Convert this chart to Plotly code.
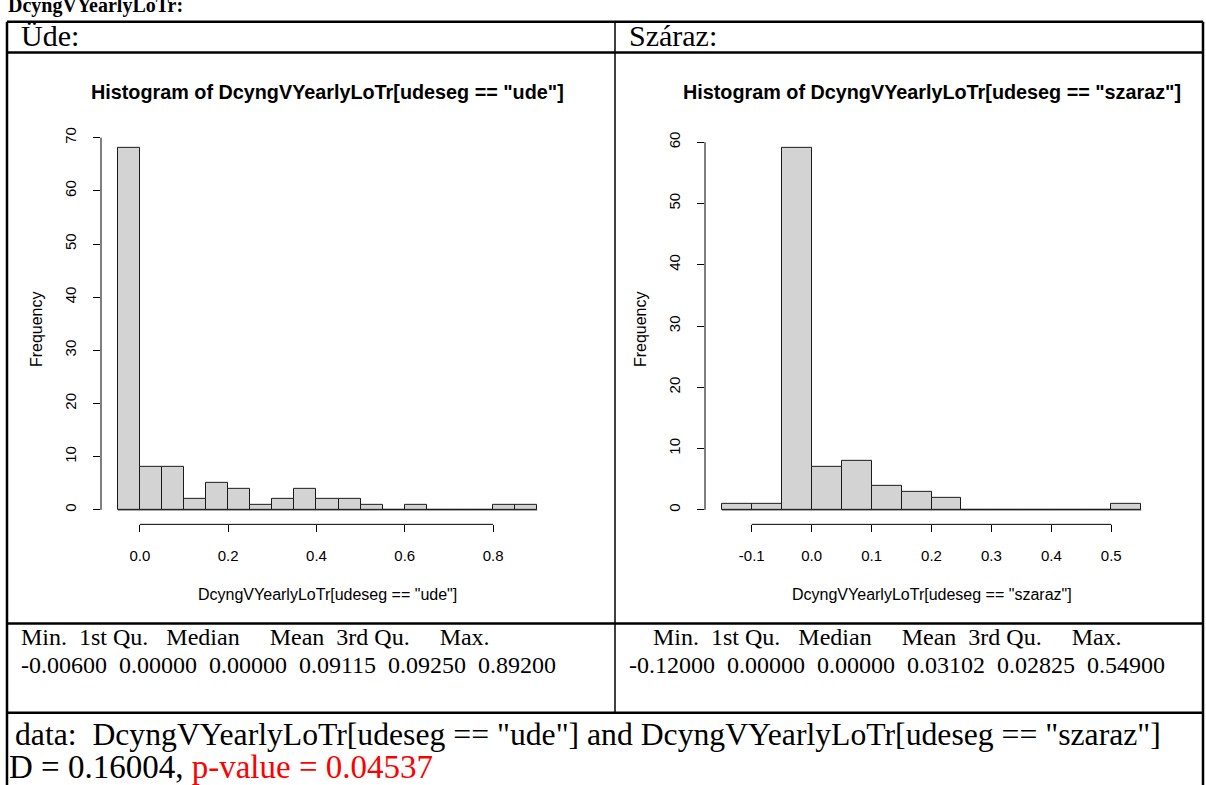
import plotly.graph_objects as go

W, H = 1206, 785

# histogram of DcyngVYearlyLoTr[udeseg == "ude"]
ude_breaks = [-0.05, 0.0, 0.05, 0.1, 0.15, 0.2, 0.25, 0.3, 0.35, 0.4, 0.45,
              0.5, 0.55, 0.6, 0.65, 0.7, 0.75, 0.8, 0.85, 0.9]
ude_counts = [68, 8, 8, 2, 5, 4, 1, 2, 4, 2, 2, 1, 0, 1, 0, 0, 0, 1, 1]
ude_xticks = [0.0, 0.2, 0.4, 0.6, 0.8]
ude_yticks = [0, 10, 20, 30, 40, 50, 60, 70]

# histogram of DcyngVYearlyLoTr[udeseg == "szaraz"]
szaraz_breaks = [-0.15, -0.1, -0.05, 0.0, 0.05, 0.1, 0.15, 0.2, 0.25, 0.3,
                 0.35, 0.4, 0.45, 0.5, 0.55]
szaraz_counts = [1, 1, 59, 7, 8, 4, 3, 2, 0, 0, 0, 0, 0, 1]
szaraz_xticks = [-0.1, 0.0, 0.1, 0.2, 0.3, 0.4, 0.5]
szaraz_yticks = [0, 10, 20, 30, 40, 50, 60]

summary_head = ["Min.", "1st Qu.", "Median", "Mean", "3rd Qu.", "Max."]
ude_summary = ["-0.00600", "0.00000", "0.00000", "0.09115", "0.09250", "0.89200"]
szaraz_summary = ["-0.12000", "0.00000", "0.00000", "0.03102", "0.02825", "0.54900"]

ks_data = 'data:  DcyngVYearlyLoTr[udeseg == "ude"] and DcyngVYearlyLoTr[udeseg == "szaraz"]'
ks_d = "D = 0.16004, "
ks_p = "p-value = 0.04537"

SERIF = "Liberation Serif"
SANS = "Liberation Sans"
NB = "\u00a0"


def px(x):
    return x / W


def py(y):
    return 1 - y / H


fig = go.Figure()


def add_hist(breaks, counts, xticks, yticks, xa, ya, xdom, name):
    mids = [(a + b) / 2 for a, b in zip(breaks[:-1], breaks[1:])]
    widths = [b - a for a, b in zip(breaks[:-1], breaks[1:])]
    fig.add_trace(go.Bar(
        x=mids, y=counts, width=widths, xaxis=xa, yaxis=ya,
        marker=dict(color="#D3D3D3", line=dict(color="#1a1a1a", width=1)),
        showlegend=False, hoverinfo="x+y",
    ))
    # empty bins are still drawn by R as a line on zero
    fig.add_trace(go.Scatter(
        x=[breaks[0], breaks[-1]], y=[0, 0], xaxis=xa, yaxis=ya, mode="lines",
        line=dict(color="#1a1a1a", width=1), showlegend=False, hoverinfo="skip",
    ))
    pad = 0.04 * (breaks[-1] - breaks[0])
    ymax = max(counts)
    axkey = "xaxis" + xa[1:]
    aykey = "yaxis" + ya[1:]
    tickfont = dict(family=SANS, size=15, color="#000")
    fig.update_layout(**{
        axkey: dict(domain=xdom, range=[breaks[0] - pad, breaks[-1] + pad],
                    anchor=ya, tickvals=xticks,
                    ticktext=[f"{t:.1f}" for t in xticks],
                    ticks="outside", ticklen=7, tickwidth=1, tickcolor="#000",
                    tickfont=tickfont, ticklabelstandoff=11,
                    showgrid=False, zeroline=False, showline=False),
        aykey: dict(domain=[py(522), py(128)], range=[-0.04 * ymax, 1.04 * ymax],
                    anchor=xa, tickvals=yticks, tickangle=-90,
                    ticks="outside", ticklen=7, tickwidth=1, tickcolor="#000",
                    tickfont=tickfont, ticklabelstandoff=11,
                    showgrid=False, zeroline=False, showline=False),
    })
    # R style axis lines: only from first to last tick
    fig.add_shape(type="line", xref=xa, yref=ya + " domain",
                  x0=xticks[0], x1=xticks[-1], y0=0, y1=0,
                  line=dict(color="#000", width=1))
    fig.add_shape(type="line", xref=xa + " domain", yref=ya,
                  x0=0, x1=0, y0=yticks[0], y1=yticks[-1],
                  line=dict(color="#000", width=1))
    cx = (xdom[0] + xdom[1]) / 2
    fig.add_annotation(text=f'Histogram of DcyngVYearlyLoTr[udeseg == "{name}"]',
                       x=cx, y=py(86), xref="paper", yref="paper", showarrow=False,
                       xanchor="center", yanchor="middle",
                       font=dict(family=SANS, size=19.8, color="#000", weight="bold"))
    fig.add_annotation(text=f'DcyngVYearlyLoTr[udeseg == "{name}"]',
                       x=cx, y=py(593), xref="paper", yref="paper", showarrow=False,
                       xanchor="center", yanchor="middle",
                       font=dict(family=SANS, size=16, color="#000"))
    fig.add_annotation(text="Frequency", textangle=-90,
                       x=xdom[0] - px(65), y=py(325), xref="paper", yref="paper",
                       xanchor="center", yanchor="middle",
                       showarrow=False, font=dict(family=SANS, size=16, color="#000"))


add_hist(ude_breaks, ude_counts, ude_xticks, ude_yticks, "x", "y",
         [px(101), px(554)], "ude")
add_hist(szaraz_breaks, szaraz_counts, szaraz_xticks, szaraz_yticks, "x2", "y2",
         [px(705), px(1158)], "szaraz")

# document table around the plots
lines = [
    (7, 15, 1203, 15, 2.5), (7, 46, 1203, 46, 2.5), (7, 622, 1203, 622, 2.5),
    (7, 712, 1203, 712, 2.5), (7, 15, 7, 785, 2.5), (1203, 15, 1203, 785, 2.5),
    (615, 15, 615, 712, 1.5),
]
for x0, y0, x1, y1, w in lines:
    fig.add_shape(type="line", xref="paper", yref="paper",
                  x0=px(x0), y0=py(y0), x1=px(x1), y1=py(y1),
                  line=dict(color="#000", width=w))


def text(s, x, y, size, color="#000", bold=False):
    fig.add_annotation(text=s, x=px(x), y=py(y), xref="paper", yref="paper",
                       xanchor="left", yanchor="middle", showarrow=False,
                       font=dict(family=SERIF, size=size, color=color,
                                 weight="bold" if bold else "normal"))


text("DcyngVYearlyLoTr:", 6, -2, 20, bold=True)
text("Üde:", 19, 29, 30)
text("Száraz:", 627, 29, 30)

sp = lambda n: NB * n
ude_head = (summary_head[0] + sp(2) + summary_head[1] + sp(3) + summary_head[2]
            + sp(5) + summary_head[3] + sp(2) + summary_head[4] + sp(5) + summary_head[5])
text(ude_head, 19, 636, 24)
text(sp(2).join(ude_summary), 19, 664, 24)
text(sp(4) + ude_head, 627, 636, 24)
text(sp(2).join(szaraz_summary), 627, 664, 24)

text(ks_data.replace("  ", sp(2)), 13, 734, 31.7)
fig.add_annotation(text=ks_d + f'<span style="color:#ff0000">{ks_p}</span>',
                   x=px(7), y=py(767), xref="paper", yref="paper",
                   xanchor="left", yanchor="middle", showarrow=False,
                   font=dict(family=SERIF, size=33, color="#000"))

fig.update_layout(
    width=W, height=H, margin=dict(l=0, r=0, t=0, b=0),
    paper_bgcolor="#fff", plot_bgcolor="#fff", bargap=0, showlegend=False,
)

fig.write_html("out.html", config={"displayModeBar": False},
               post_script="document.body.style.margin='0';")
